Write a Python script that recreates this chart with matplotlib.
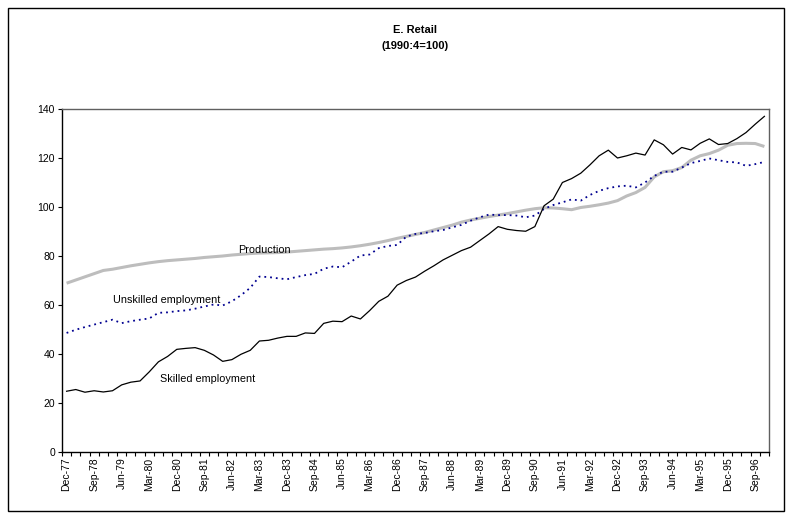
import matplotlib
matplotlib.use("Agg")
import matplotlib.pyplot as plt
from matplotlib.patches import Rectangle

plt.rcParams['font.family'] = ['Liberation Sans', 'DejaVu Sans']

# Quarterly categories Dec-77 .. Dec-96
months = ["Mar", "Jun", "Sep", "Dec"]
quarters = ["Dec-77"] + [f"{m}-{y:02d}" for y in range(78, 97) for m in months]

skilled = [24.8, 25.5, 24.4, 25.0, 24.5, 25.0, 27.4, 28.5, 29.0, 32.7,
           36.8, 39.0, 41.9, 42.3, 42.6, 41.5, 39.6, 37.0, 37.7, 39.9,
           41.5, 45.3, 45.6, 46.5, 47.2, 47.2, 48.6, 48.4, 52.5, 53.4,
           53.2, 55.5, 54.3, 57.7, 61.5, 63.6, 68.1, 70.0, 71.4, 73.8,
           76.0, 78.4, 80.3, 82.2, 83.6, 86.3, 89.0, 92.0, 90.9, 90.4,
           90.1, 92.0, 100.5, 103.2, 110.0, 111.6, 113.8, 117.2, 120.9, 123.2,
           120.0, 120.9, 122.0, 121.2, 127.4, 125.4, 121.6, 124.3, 123.3, 126.0,
           127.8, 125.5, 125.9, 127.9, 130.4, 133.8, 137.0]

unskilled = [48.6, 49.9, 51.0, 52.0, 53.0, 54.0, 52.6, 53.4, 54.0, 54.5,
             56.8, 57.0, 57.5, 57.8, 58.5, 59.4, 60.2, 59.8, 61.5, 64.0,
             67.0, 71.6, 71.4, 70.9, 70.5, 71.4, 72.2, 72.7, 74.8, 75.7,
             75.4, 77.7, 80.2, 80.6, 83.2, 84.1, 84.5, 87.9, 89.0, 89.4,
             90.1, 90.6, 91.7, 92.7, 94.4, 95.8, 96.9, 96.7, 96.7, 96.5,
             95.8, 96.5, 99.2, 100.8, 101.9, 103.1, 102.6, 104.9, 106.6, 107.7,
             108.4, 108.7, 108.0, 110.0, 112.7, 114.4, 114.4, 116.1, 117.9, 118.8,
             119.8, 119.1, 118.4, 118.2, 116.8, 117.5, 118.4]

production = [68.9, 70.2, 71.5, 72.8, 74.1, 74.6, 75.3, 76.0, 76.6, 77.2,
              77.7, 78.1, 78.4, 78.7, 79.0, 79.4, 79.7, 80.0, 80.4, 80.7,
              81.0, 81.2, 81.3, 81.4, 81.6, 81.9, 82.2, 82.5, 82.8, 83.0,
              83.3, 83.7, 84.2, 84.8, 85.5, 86.3, 87.2, 88.0, 88.8, 89.6,
              90.6, 91.6, 92.6, 93.8, 94.7, 95.4, 96.1, 96.7, 97.3, 98.0,
              98.7, 99.3, 99.7, 99.6, 99.3, 98.9, 99.8, 100.3, 100.9, 101.6,
              102.6, 104.5, 105.9, 108.0, 112.3, 114.4, 114.8, 116.1, 119.1, 120.9,
              121.8, 123.2, 125.2, 125.9, 126.0, 125.9, 124.7]

yticks = [0, 20, 40, 60, 80, 100, 120, 140]

fig = plt.figure(figsize=(7.93, 5.22), dpi=100)
W, H = 793, 522
ax = fig.add_axes([62 / W, 1 - 452 / H, (769 - 62) / W, (452 - 109) / H])

x = list(range(len(quarters)))
ax.plot(x, production, color='#BDBDBD', lw=2.2, solid_capstyle='butt', zorder=2)
ax.plot(x, unskilled, color='#000090', lw=1.3, linestyle=(0, (1, 2.2)), zorder=3)
ax.plot(x, skilled, color='black', lw=0.9, zorder=4)

ax.set_xlim(-0.5, len(quarters) - 0.5)
ax.set_ylim(0, 140)
ax.set_yticks(yticks)
ax.set_yticklabels([str(v) for v in yticks], fontsize=7.5)

label_idx = list(range(0, len(quarters), 3))
ax.set_xticks(label_idx)
ax.set_xticklabels([quarters[i] for i in label_idx], rotation=90, fontsize=7.5)
ax.set_xticks([i - 0.5 for i in range(len(quarters) + 1)], minor=True)
ax.tick_params(axis='x', which='major', length=0, pad=4)
ax.tick_params(axis='x', which='minor', length=3, width=0.8, direction='out')
ax.tick_params(axis='y', length=3, width=0.8, direction='out', pad=2)

for side in ['left', 'bottom']:
    ax.spines[side].set_color('black')
    ax.spines[side].set_linewidth(1.0)
for side in ['top', 'right']:
    ax.spines[side].set_color('#606060')
    ax.spines[side].set_linewidth(1.0)

# Series labels
ax.text(238 / W, 1 - 250 / H, "Production", transform=fig.transFigure,
        fontsize=7.8, va='center', ha='left')
ax.text(113 / W, 1 - 300 / H, "Unskilled employment", transform=fig.transFigure,
        fontsize=7.8, va='center', ha='left')
ax.text(160 / W, 1 - 379 / H, "Skilled employment", transform=fig.transFigure,
        fontsize=7.8, va='center', ha='left')

# Title
fig.text(415 / W, 1 - 30 / H, "E. Retail", ha='center', va='center',
         fontsize=8, fontweight='bold')
fig.text(415 / W, 1 - 46 / H, "(1990:4=100)", ha='center', va='center',
         fontsize=8, fontweight='bold')

# Chart-area border
fig.patches.append(Rectangle((8 / W, 1 - 511 / H), (784 - 8) / W, (511 - 8) / H,
                             transform=fig.transFigure, fill=False,
                             edgecolor='black', linewidth=1.0))

fig.savefig("out.png", dpi=100)
